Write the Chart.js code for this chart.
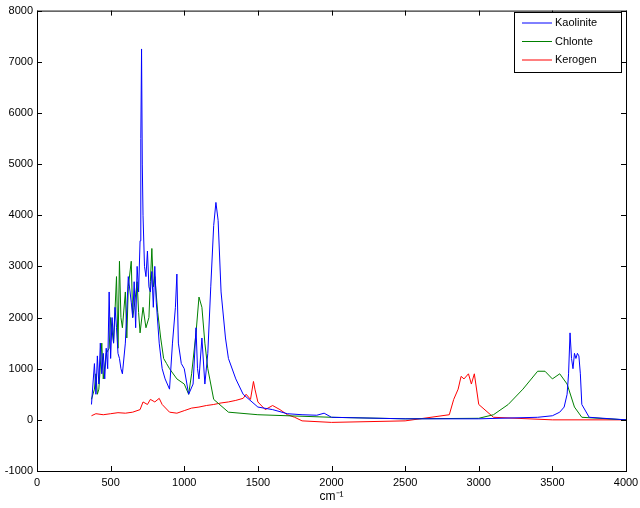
<!DOCTYPE html>
<html>
<head>
<script src="https://cdn.jsdelivr.net/npm/chart.js@4/dist/chart.umd.min.js"></script>
<style>body{margin:0;background:#fff}#wrap{width:640px;height:508px}</style>
</head>
<body>
<div id="wrap"><canvas id="c"></canvas></div>
<script>
const xTicks = [0, 500, 1000, 1500, 2000, 2500, 3000, 3500, 4000];
const yTicks = [-1000, 0, 1000, 2000, 3000, 4000, 5000, 6000, 7000, 8000];

const kaoliniteX = [370,390,400,410,420,430,440,450,460,470,480,490,500,510,520,530,540,550,560,570,580,600,620,640,650,660,670,680,690,700,705,710,715,720,730,740,750,760,770,780,790,800,810,830,850,870,900,920,940,950,960,980,1000,1030,1060,1080,1090,1100,1120,1140,1160,1180,1200,1215,1230,1250,1280,1300,1350,1400,1500,1600,1700,1800,1900,1950,2000,2500,3000,3400,3500,3550,3580,3600,3610,3620,3630,3640,3650,3660,3670,3680,3690,3700,3750,4000];
const kaoliniteY = [300,1100,500,1250,700,1500,900,1300,800,1400,1000,2500,1200,2000,1500,2200,1800,1300,1200,1000,900,1500,2800,2300,2000,2700,1800,3000,2500,3500,5500,7250,5000,4000,3000,2800,3300,2600,2500,2900,2200,3000,2300,1500,1000,800,600,1500,2200,2850,1500,1100,1000,500,700,1800,1000,800,1600,700,1300,2600,3800,4250,3900,2500,1600,1200,800,500,250,200,120,100,90,130,50,20,20,50,80,150,250,500,900,1700,1200,1000,1300,1200,1300,1250,900,300,50,0];

const chloriteX = [370,390,400,410,420,440,450,470,490,500,520,540,550,560,570,580,600,610,620,640,650,660,680,690,700,720,740,760,770,780,790,800,820,840,860,880,900,950,1000,1030,1050,1080,1100,1120,1140,1160,1200,1300,1500,2000,2500,3000,3100,3200,3300,3400,3450,3500,3550,3600,3650,3700,4000];
const chloriteY = [400,600,900,500,600,1500,800,1300,1400,2000,1500,2800,1400,3100,2000,1800,2500,1600,2600,3100,2000,2200,2700,2100,1700,2200,1800,2000,2700,3350,2600,2800,2100,1600,1200,1100,1000,800,700,500,900,1700,2400,2200,1500,1000,400,150,100,50,20,30,100,300,600,950,950,800,900,700,250,50,0];

const kerogenX = [370,400,450,500,550,600,650,700,720,750,770,800,830,850,900,950,1000,1050,1100,1150,1200,1250,1300,1350,1400,1420,1450,1470,1480,1500,1550,1600,1650,1700,1750,1800,2000,2500,2800,2830,2860,2880,2900,2930,2950,2970,3000,3100,3500,4000];
const kerogenY = [80,120,100,120,140,130,150,200,350,300,400,350,420,300,150,130,180,230,250,280,300,330,350,380,420,500,400,750,600,350,200,280,200,100,50,-20,-50,-20,100,400,600,850,800,900,700,900,300,50,0,0];

const toXY = (xs, ys) => xs.map((x, i) => ({x: x, y: ys[i]}));

const seriesNames = ["Kaolinite", "Chlonte", "Kerogen"];
const seriesColors = ["#0000ff", "#008000", "#ff0000"];

// box + inward ticks + legend + x title, matlab style
const matlabAxes = {
  id: "matlabAxes",
  afterDraw(chart) {
    const ctx = chart.ctx, a = chart.chartArea;
    const xs = chart.scales.x, ys = chart.scales.y;
    ctx.save();
    ctx.strokeStyle = "#000";
    ctx.lineWidth = 1;
    ctx.strokeRect(a.left + 0.5, a.top + 0.5, a.right - a.left, a.bottom - a.top);
    ctx.beginPath();
    xTicks.forEach(v => {
      const p = Math.round(xs.getPixelForValue(v)) + 0.5;
      ctx.moveTo(p, a.bottom); ctx.lineTo(p, a.bottom - 5);
      ctx.moveTo(p, a.top); ctx.lineTo(p, a.top + 5);
    });
    yTicks.forEach(v => {
      const p = Math.round(ys.getPixelForValue(v)) + 0.5;
      ctx.moveTo(a.left, p); ctx.lineTo(a.left + 5, p);
      ctx.moveTo(a.right, p); ctx.lineTo(a.right - 5, p);
    });
    ctx.stroke();
    // x title
    ctx.fillStyle = "#000";
    ctx.font = "12px 'Liberation Sans', Arial, sans-serif";
    ctx.textAlign = "center";
    ctx.textBaseline = "middle";
    ctx.fillText("cm\u207B\u00B9", (a.left + a.right) / 2, 497);
    // legend
    ctx.textAlign = "left";
    const lx = 514, ly = 12, lw = 107, lh = 60;
    ctx.fillStyle = "#fff";
    ctx.fillRect(lx, ly, lw, lh);
    ctx.strokeRect(lx + 0.5, ly + 0.5, lw, lh);
    ctx.font = "11px 'Liberation Sans', Arial, sans-serif";
    seriesNames.forEach((n, i) => {
      const yy = ly + 11 + i * 18.5;
      ctx.strokeStyle = seriesColors[i];
      ctx.beginPath(); ctx.moveTo(lx + 8, yy); ctx.lineTo(lx + 38, yy); ctx.stroke();
      ctx.fillStyle = "#000";
      ctx.fillText(n, lx + 41, yy);
    });
    ctx.restore();
  }
};

const tickFont = {size: 11, family: "'Liberation Sans', Arial"};

new Chart(document.getElementById("c"), {
  type: "line",
  data: {
    datasets: [
      {label: seriesNames[0], data: toXY(kaoliniteX, kaoliniteY), borderColor: seriesColors[0]},
      {label: seriesNames[1], data: toXY(chloriteX, chloriteY), borderColor: seriesColors[1]},
      {label: seriesNames[2], data: toXY(kerogenX, kerogenY), borderColor: seriesColors[2]}
    ].map(d => Object.assign(d, {borderWidth: 1, pointRadius: 0, tension: 0, fill: false}))
  },
  options: {
    responsive: true,
    maintainAspectRatio: false,
    animation: false,
    layout: {padding: {top: 5, right: 14, left: 0, bottom: 0}},
    plugins: {legend: {display: false}, tooltip: {enabled: false}},
    scales: {
      x: {
        type: "linear", min: 0, max: 4000,
        afterBuildTicks: s => { s.ticks = xTicks.map(v => ({value: v})); },
        afterFit: s => { s.height = 37; s.paddingRight = 0; s.paddingLeft = 0; },
        grid: {display: false, drawTicks: false},
        border: {display: false},
        ticks: {color: "#000", font: tickFont, maxRotation: 0, padding: 5, callback: v => String(v)}
      },
      y: {
        min: -1000, max: 8000,
        afterBuildTicks: s => { s.ticks = yTicks.map(v => ({value: v})); },
        afterFit: s => { s.width = 37; },
        grid: {display: false, drawTicks: false},
        border: {display: false},
        ticks: {color: "#000", font: tickFont, padding: 4, callback: v => String(v)}
      }
    }
  },
  plugins: [matlabAxes]
});
</script>
</body>
</html>
